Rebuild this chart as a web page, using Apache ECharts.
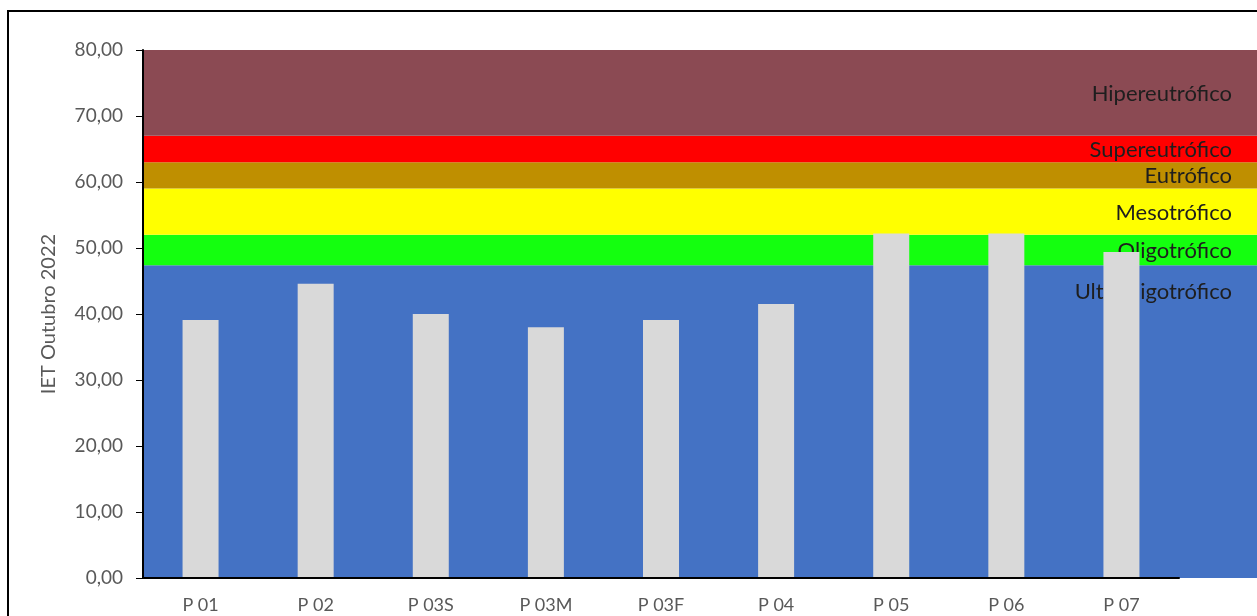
<!DOCTYPE html>
<html><head><meta charset="utf-8">
<script src="https://cdn.jsdelivr.net/npm/echarts@6/dist/echarts.min.js"></script>
<style>html,body{margin:0;padding:0;background:#fff}#c{width:1257px;height:616px}</style>
</head><body><div id="c"></div>
<script>
const categories = ['P 01','P 02','P 03S','P 03M','P 03F','P 04','P 05','P 06','P 07'];
const ietValues = [39.1, 44.6, 40.0, 38.0, 39.1, 41.5, 52.2, 52.2, 49.4];
const bandNames = ['Ultraoligotrófico','Oligotrófico','Mesotrófico','Eutrófico','Supereutrófico','Hipereutrófico'];
const bandUpper = [47.4, 52, 59, 63, 67, 80];
const bandColors = ['#4472C4','#14FF0F','#FFFF00','#BF8F00','#FF0000','#8B4A53'];
const yTicks = [0,10,20,30,40,50,60,70,80];

const FONT = 'Lato';
const chart = echarts.init(document.getElementById('c'));
const bandSeries = bandNames.map((name, i) => {
  const h = bandUpper[i] - (i ? bandUpper[i-1] : 0);
  const isUltra = i === 0;
  return {
    type: 'bar', name, stack: 'bands', xAxisIndex: 1, yAxisIndex: 1, z: 1,
    barWidth: '100%', silent: true,
    itemStyle: { color: bandColors[i] },
    label: {
      show: true, formatter: name,
      position: isUltra ? 'insideTopRight' : 'insideRight',
      distance: 25, offset: isUltra ? [0, -9] : [0, 1],
      color: '#1e1e1e', fontFamily: FONT, fontSize: 22
    },
    data: [h]
  };
});

chart.setOption({
  animation: false,
  graphic: [{ type: 'rect', z: 100, shape: { x: 8, y: 11, width: 1300, height: 700 },
    style: { fill: 'none', stroke: '#000', lineWidth: 2 } }],
  grid: [
    { left: 143, right: 78, top: 50, bottom: 38 },
    { left: 143, right: 0, top: 50, bottom: 38 }
  ],
  xAxis: [
    { type: 'category', data: categories, gridIndex: 0, z: 10,
      axisLine: { lineStyle: { color: '#000', width: 2 } },
      axisTick: { show: false },
      axisLabel: { color: '#595959', fontFamily: FONT, fontSize: 18, margin: 18 } },
    { type: 'category', data: ['b'], gridIndex: 1, show: false }
  ],
  yAxis: [
    { type: 'value', gridIndex: 0, min: 0, max: 80, interval: 10, z: 10,
      name: 'IET Outubro 2022', nameLocation: 'middle', nameGap: 84,
      nameTextStyle: { color: '#595959', fontFamily: FONT, fontSize: 20 },
      axisLine: { show: true, lineStyle: { color: '#000', width: 2 } },
      axisTick: { show: true, length: 7, lineStyle: { color: '#000', width: 1 } },
      splitLine: { show: false },
      axisLabel: { color: '#595959', fontFamily: FONT, fontSize: 19, margin: 20,
        formatter: v => yTicks.includes(v) ? v.toFixed(2).replace('.', ',') : '' } },
    { type: 'value', gridIndex: 1, min: 0, max: 80, show: false }
  ],
  series: [
    ...bandSeries,
    { type: 'bar', name: 'IET', data: ietValues, xAxisIndex: 0, yAxisIndex: 0, z: 5,
      barWidth: 36, itemStyle: { color: '#D9D9D9' } }
  ]
});
</script></body></html>
